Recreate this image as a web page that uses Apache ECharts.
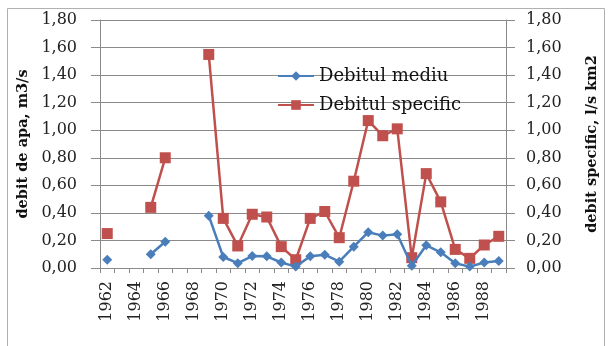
<!DOCTYPE html>
<html>
<head>
<meta charset="utf-8">
<script src="https://cdn.jsdelivr.net/npm/echarts@6/dist/echarts.min.js"></script>
<style>
  html, body { margin: 0; padding: 0; background: #fff; }
  #chart { width: 608px; height: 346px; }
</style>
</head>
<body>
<div id="chart"></div>
<script>
// Annual flow series, 1962-1989 (null = no measurement that year)
const years = ['1962','1963','1964','1965','1966','1967','1968','1969','1970','1971',
  '1972','1973','1974','1975','1976','1977','1978','1979','1980','1981',
  '1982','1983','1984','1985','1986','1987','1988','1989'];
const debitMediu = [0.06, null, null, 0.10, 0.19, null, null, 0.38, 0.08, 0.035,
  0.087, 0.085, 0.04, 0.01, 0.085, 0.097, 0.046, 0.155, 0.26, 0.235,
  0.245, 0.017, 0.165, 0.114, 0.034, 0.01, 0.04, 0.05];
const debitSpecific = [0.25, null, null, 0.44, 0.80, null, null, 1.55, 0.36, 0.16,
  0.39, 0.37, 0.155, 0.06, 0.36, 0.41, 0.22, 0.63, 1.07, 0.96,
  1.01, 0.075, 0.685, 0.48, 0.135, 0.07, 0.167, 0.23];
const seriesNames = ['Debitul mediu', 'Debitul specific'];
const leftAxisName = 'debit de apa, m3/s';
const rightAxisName = 'debit specific, l/s km2';

const FONT = 'DejaVu Serif';
const gridColor = '#8a8a8a';
const fmt = v => v.toFixed(2).replace('.', ',');

function valueAxis(position, name, margin, nameGap) {
  return {
    type: 'value', position: position, min: 0, max: 1.8, interval: 0.2,
    name: name, nameLocation: 'middle', nameGap: nameGap, nameRotate: 90,
    nameTextStyle: { fontFamily: FONT, fontSize: 14.5, fontWeight: 'bold', color: '#111' },
    axisLine: { show: true, lineStyle: { color: gridColor, width: 1 } },
    axisTick: { show: true, length: 9, lineStyle: { color: gridColor } },
    axisLabel: { margin: margin, formatter: fmt, fontFamily: FONT, fontSize: 16, color: '#222' },
    splitLine: { show: position === 'left', lineStyle: { color: gridColor, width: 1 } }
  };
}

const chart = echarts.init(document.getElementById('chart'), null, { renderer: 'canvas' });
chart.setOption({
  animation: false,
  backgroundColor: '#fff',
  graphic: [{
    type: 'rect', silent: true, z: -1,
    shape: { x: 7.5, y: 8.5, width: 597, height: 400 },
    style: { fill: 'none', stroke: '#b0b0b0', lineWidth: 1 }
  }],
  grid: { left: 100, right: 93, top: 20, bottom: 78 },
  legend: {
    left: 272, top: 62, orient: 'vertical', itemGap: 11,
    itemWidth: 36, itemHeight: 12,
    textStyle: { fontFamily: FONT, fontSize: 18, color: '#111' },
    data: seriesNames
  },
  xAxis: {
    type: 'category', data: years, boundaryGap: true,
    axisLine: { lineStyle: { color: gridColor } },
    axisTick: { show: true, interval: 0, length: 5, lineStyle: { color: gridColor } },
    axisLabel: { interval: 1, rotate: 90, margin: 13, fontFamily: FONT, fontSize: 16, color: '#222' }
  },
  yAxis: [
    valueAxis('left', leftAxisName, 23, 64),
    valueAxis('right', rightAxisName, 20, 79)
  ],
  series: [
    {
      name: seriesNames[0], type: 'line', yAxisIndex: 0, data: debitMediu,
      connectNulls: false, showAllSymbol: true, symbol: 'diamond', symbolSize: 10,
      itemStyle: { color: '#4a7ebb' },
      lineStyle: { color: '#4a7ebb', width: 2.5 }, z: 3
    },
    {
      name: seriesNames[1], type: 'line', yAxisIndex: 1, data: debitSpecific,
      connectNulls: false, showAllSymbol: true, symbol: 'rect', symbolSize: 11,
      itemStyle: { color: '#c0504d' },
      lineStyle: { color: '#c0504d', width: 2.5 }, z: 2
    }
  ]
});
</script>
</body>
</html>
